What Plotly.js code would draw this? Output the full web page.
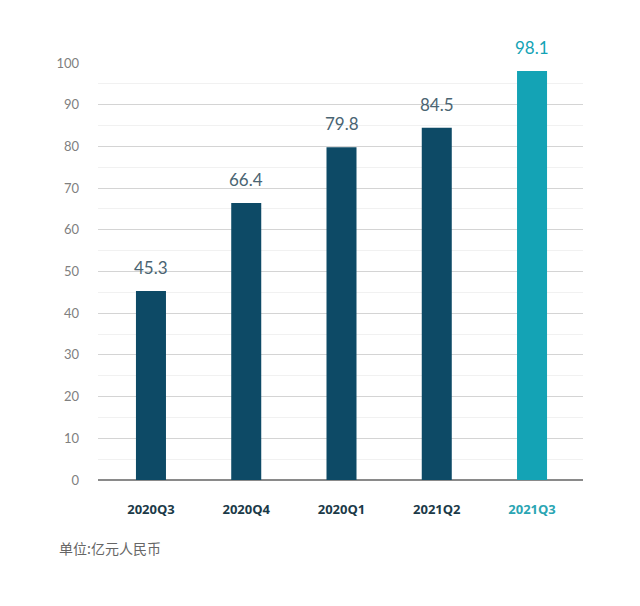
<!DOCTYPE html>
<html>
<head>
<meta charset="utf-8">
<script src="https://cdn.plot.ly/plotly-3.0.1.min.js"></script>
<style>html,body{margin:0;padding:0;background:#fff;}#chart{width:640px;height:606px;}</style>
</head>
<body>
<div id="chart"></div>
<script>
const categories = ["2020Q3", "2020Q4", "2020Q1", "2021Q2", "2021Q3"];
const values = [45.3, 66.4, 79.8, 84.5, 98.1];
const unitLabel = "单位:亿元人民币";

const dark = "#0d4a66";
const teal = "#14a3b5";
const barColors = categories.map((c, i) => i === categories.length - 1 ? teal : dark);
const labelColors = categories.map((c, i) => i === categories.length - 1 ? teal : "#4a6472");
const tickColors = categories.map((c, i) => i === categories.length - 1 ? "#2aa5b3" : "#1b3a48");

const trace = {
  type: "bar",
  x: categories.map((c, i) => i),
  y: values,
  width: 0.315,
  marker: {color: barColors},
  cliponaxis: false,
  hoverinfo: "skip"
};

const valueLabels = values.map((v, i) => ({
  x: i, y: v, xref: "x", yref: "y",
  text: v.toFixed(1),
  showarrow: false, xanchor: "center", yanchor: "bottom",
  yshift: 11,
  font: {size: 17, color: labelColors[i], family: "Lato, 'Open Sans', sans-serif"}
}));

const layout = {
  width: 640, height: 606,
  margin: {l: 98, r: 57, t: 63, b: 126},
  paper_bgcolor: "#fff", plot_bgcolor: "#fff",
  showlegend: false,
  font: {family: "Lato, 'Open Sans', sans-serif"},
  xaxis: {
    range: [-0.556, 4.535],
    tickvals: categories.map((c, i) => i),
    ticktext: categories.map((c, i) => '<span style="color:' + tickColors[i] + '"><b>' + c + '</b></span>'),
    tickfont: {size: 13, family: "'Open Sans', Lato, sans-serif"},
    showgrid: false, zeroline: false, showline: false, ticks: "",
    ticklabelstandoff: 20,
    fixedrange: true
  },
  yaxis: {
    range: [0, 100],
    dtick: 10, tick0: 0,
    showgrid: true, gridcolor: "#d4d4d4", gridwidth: 1,
    minor: {dtick: 5, showgrid: true, gridcolor: "#f1f1f1", gridwidth: 1},
    zeroline: true, zerolinecolor: "#8a8a8a", zerolinewidth: 1.5,
    tickfont: {size: 13, color: "#808080"},
    ticks: "", ticklabelstandoff: 18,
    fixedrange: true
  },
  annotations: valueLabels.concat([{
    text: unitLabel, xref: "paper", yref: "paper",
    x: -0.084, y: -0.163, xanchor: "left", yanchor: "middle",
    showarrow: false,
    font: {size: 14, color: "#666", family: "'Noto Sans CJK SC', sans-serif"}
  }])
};

Plotly.newPlot("chart", [trace], layout, {displayModeBar: false, staticPlot: true});
</script>
</body>
</html>
